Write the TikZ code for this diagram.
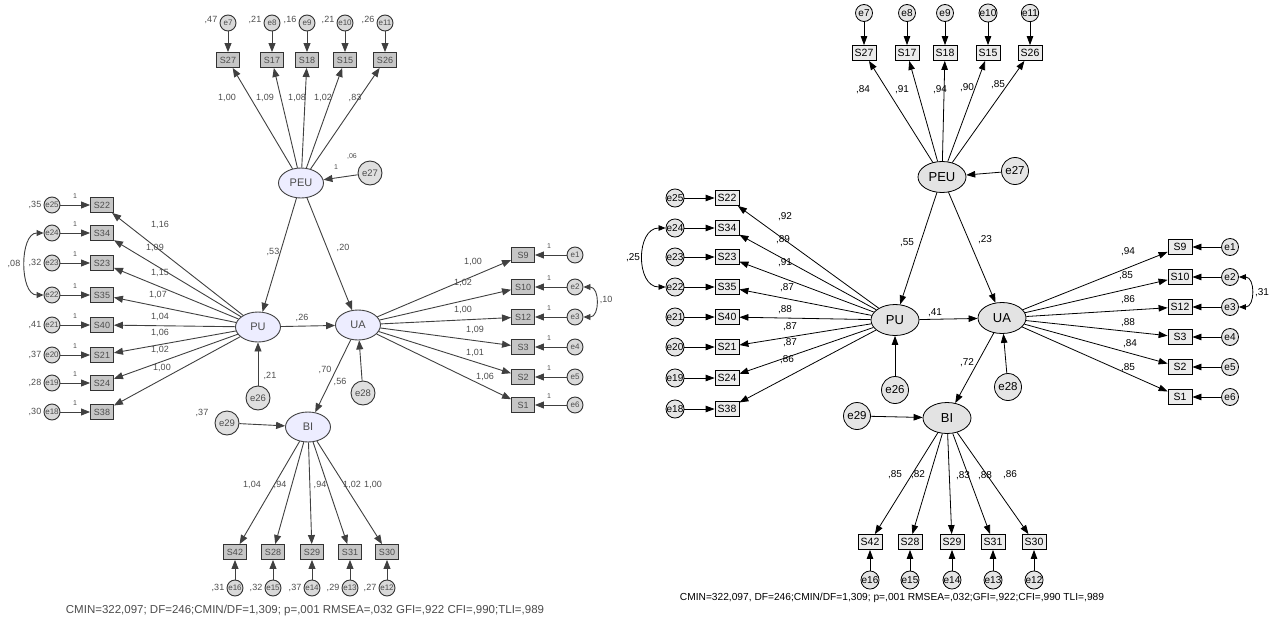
\documentclass[tikz,border=0pt]{standalone}
\usepackage{fontspec}
\setmainfont{Liberation Sans}
\usetikzlibrary{arrows.meta,shapes.geometric}

\begin{document}
\begin{tikzpicture}[x=1pt,y=-1pt,
    every node/.style={inner sep=0pt},
    % right model (standardized)
    lat/.style={ellipse, draw=black, fill=gray!22, line width=0.8pt, minimum width=48pt, minimum height=31pt, font=\fontsize{13}{14}\selectfont},
    obs/.style={draw=black, fill=gray!15, line width=0.8pt, minimum width=24pt, minimum height=15pt, font=\fontsize{10.5}{11}\selectfont},
    err/.style={circle, draw=black, fill=gray!20, line width=0.8pt, minimum size=17pt, font=\fontsize{10}{11}\selectfont},
    res/.style={circle, draw=black, fill=gray!20, line width=0.8pt, minimum size=27pt, font=\fontsize{11.5}{12}\selectfont},
    lbl/.style={font=\fontsize{10}{11}\selectfont},
    path/.style={-{Triangle[length=9pt,width=6.5pt]}, line width=0.8pt},
    cov/.style={{Triangle[length=7pt,width=5.5pt]}-{Triangle[length=7pt,width=5.5pt]}, line width=0.8pt},
    % left model (unstandardized)
    alat/.style={ellipse, draw=black!75, fill=blue!7, line width=0.9pt, minimum width=45pt, minimum height=30pt, font=\fontsize{11}{12}\selectfont, text=black!70},
    aobs/.style={draw=black!80, fill=gray!45, line width=0.9pt, minimum width=23pt, minimum height=15pt, font=\fontsize{9}{10}\selectfont, text=black!70},
    aerr/.style={circle, draw=black!80, fill=gray!30, line width=0.9pt, minimum size=16pt, font=\fontsize{8}{9}\selectfont, text=black!70},
    ares/.style={circle, draw=black!80, fill=gray!25, line width=0.9pt, minimum size=24pt, font=\fontsize{9.5}{10}\selectfont, text=black!70},
    albl/.style={font=\fontsize{9}{10}\selectfont, text=black!70},
    aone/.style={font=\fontsize{7}{8}\selectfont, text=black!70},
    apath/.style={-{Triangle[length=9pt,width=7pt]}, line width=0.9pt, draw=black!75},
    acov/.style={{Triangle[length=7pt,width=6pt]}-{Triangle[length=7pt,width=6pt]}, line width=0.9pt, draw=black!75},
    foot/.style={font=\fontsize{10.2}{11}\selectfont}]

\useasboundingbox (0,0) rectangle (1271,621);

% ---------- left model ----------
\node[alat] (aPEU) at (301,183) {PEU};
\node[alat] (aPU) at (258,327) {PU};
\node[alat] (aUA) at (358,325) {UA};
\node[alat] (aBI) at (308,427) {BI};
\node[ares] (ae27) at (370,173) {e27};
\node[ares] (ae26) at (258,398) {e26};
\node[ares] (ae28) at (363,393) {e28};
\node[ares] (ae29) at (227,423) {e29};

% structural paths
\draw[apath] (ae27) -- (aPEU);
\draw[apath] (ae26) -- (aPU);
\draw[apath] (ae28) -- (aUA);
\draw[apath] (ae29) -- (aBI);
\draw[apath] (aPEU) -- (aPU);
\draw[apath] (aPEU) -- (aUA);
\draw[apath] (aPU) -- (aUA);
\draw[apath] (aUA) -- (aBI);
\node[albl] (aw1) at (273,252) {,53};
\node[albl] (aw2) at (343,248) {,20};
\node[albl] (aw3) at (302,318) {,26};
\node[albl] (aw4) at (325,370) {,70};
\node[albl] (av28) at (340,382) {,56};
\node[albl] (av26) at (270,376) {,21};
\node[albl] (av29) at (202,413) {,37};
\node[aone] (av27) at (352,157) {,06};
\node[aone] (ao27) at (336,167) {1};

% PEU items
\foreach \s/\e/\x/\w/\lx/\v in {27/7/228/{1,00}/227/{,47}, 17/8/272/{1,09}/265/{,21}, 18/9/307/{1,08}/297/{,16}, 15/10/345/{1,02}/323/{,21}, 26/11/385/{,83}/355/{,26}}{
  \node[aobs] (aS\s) at (\x,60) {S\s};
  \node[aerr] (ae\e) at (\x,23) {e\e};
  \node[albl] (al\s) at (\lx,98) {\w};
  \node[albl] (av\e) at (\x-17,20) {\v};
  \draw[apath] (ae\e) -- (aS\s);
  \draw[apath] (aPEU) -- (aS\s);
}

% PU items
\foreach \s/\e/\y/\w/\lx/\ly/\v in {22/25/205/{1,16}/160/225/{,35}, 34/24/233/{1,09}/155/248/{}, 23/23/263/{1,15}/160/273/{,32}, 35/22/295/{1,07}/158/295/{}, 40/21/325/{1,04}/160/317/{,41}, 21/20/355/{1,06}/160/333/{,37}, 24/19/383/{1,02}/160/350/{,28}, 38/18/412/{1,00}/162/368/{,30}}{
  \node[aobs] (aS\s) at (102,\y) {S\s};
  \node[aerr] (ae\e) at (52,\y) {e\e};
  \node[albl] (al\s) at (\lx,\ly) {\w};
  \node[albl] (av\e) at (35,\y) {\v};
  \node[aone] (ao\s) at (75,\y-9) {1};
  \draw[apath] (ae\e) -- (aS\s);
  \draw[apath] (aPU) -- (aS\s);
}
\draw[acov] (ae24.west) to[out=180,in=180,looseness=1.0] (ae22.west);
\node[albl] (ac1) at (14,264) {,08};

% UA items
\foreach \s/\e/\y/\w/\lx/\ly in {9/1/255/{1,00}/473/262, 10/2/287/{1,02}/463/283, 12/3/317/{1,00}/463/310, 3/4/347/{1,09}/475/330, 2/5/377/{1,01}/475/353, 1/6/405/{1,06}/485/377}{
  \node[aobs] (aS\s) at (523,\y) {S\s};
  \node[aerr] (ae\e) at (575,\y) {e\e};
  \node[albl] (al\s) at (\lx,\ly) {\w};
  \node[aone] (ao\s) at (549,\y-9) {1};
  \draw[apath] (ae\e) -- (aS\s);
  \draw[apath] (aUA) -- (aS\s);
}
\draw[acov] (ae2.east) to[out=0,in=0,looseness=1.4] (ae3.east);
\node[albl] (ac2) at (606,300) {,10};

% BI items
\foreach \s/\e/\x/\w/\lx/\v in {42/16/235/{1,04}/252/{,31}, 28/15/273/{,94}/280/{,32}, 29/14/312/{,94}/320/{,37}, 31/13/350/{1,02}/352/{,29}, 30/12/387/{1,00}/373/{,27}}{
  \node[aobs] (aS\s) at (\x,552) {S\s};
  \node[aerr] (ae\e) at (\x,588) {e\e};
  \node[albl] (al\s) at (\lx,485) {\w};
  \node[albl] (av\e) at (\x-17,588) {\v};
  \draw[apath] (ae\e) -- (aS\s);
  \draw[apath] (aBI) -- (aS\s);
}
\node[foot, text=black!70, font=\fontsize{11.5}{12}\selectfont] (afit) at (305,611) {CMIN=322,097; DF=246;CMIN/DF=1,309; p=,001 RMSEA=,032 GFI=,922 CFI=,990;TLI=,989};

% ---------- right model ----------
\node[lat] (bPEU) at (942,177) {PEU};
\node[lat] (bPU) at (895,320) {PU};
\node[lat] (bUA) at (1002,318) {UA};
\node[lat] (bBI) at (947,418) {BI};
\node[res] (be27) at (1015,171) {e27};
\node[res] (be26) at (895,390) {e26};
\node[res] (be28) at (1008,387) {e28};
\node[res] (be29) at (857,416) {e29};

% structural paths
\draw[path] (be27) -- (bPEU);
\draw[path] (be26) -- (bPU);
\draw[path] (be28) -- (bUA);
\draw[path] (be29) -- (bBI);
\draw[path] (bPEU) -- (bPU);
\draw[path] (bPEU) -- (bUA);
\draw[path] (bPU) -- (bUA);
\draw[path] (bUA) -- (bBI);
\node[lbl] (bw1) at (907,243) {,55};
\node[lbl] (bw2) at (985,240) {,23};
\node[lbl] (bw3) at (935,313) {,41};
\node[lbl] (bw4) at (967,363) {,72};

% PEU items
\foreach \s/\e/\x/\w/\lx/\ly in {27/7/864/{,84}/863/90, 17/8/907/{,91}/902/90, 18/9/945/{,94}/940/90, 15/10/988/{,90}/967/88, 26/11/1030/{,85}/998/85}{
  \node[obs] (bS\s) at (\x,53) {S\s};
  \node[err] (be\e) at (\x,13) {e\e};
  \node[lbl] (bl\s) at (\lx,\ly) {\w};
  \draw[path] (be\e) -- (bS\s);
  \draw[path] (bPEU) -- (bS\s);
}

% PU items
\foreach \s/\e/\y/\w/\lx/\ly in {22/25/198/{,92}/785/217, 34/24/228/{,89}/783/240, 23/23/257/{,91}/785/263, 35/22/287/{,87}/787/288, 40/21/317/{,88}/785/310, 21/20/347/{,87}/790/327, 24/19/378/{,87}/790/343, 38/18/409/{,86}/787/360}{
  \node[obs] (bS\s) at (727,\y) {S\s};
  \node[err] (be\e) at (675,\y) {e\e};
  \node[lbl] (bl\s) at (\lx,\ly) {\w};
  \draw[path] (be\e) -- (bS\s);
  \draw[path] (bPU) -- (bS\s);
}
\draw[cov] (be24.west) to[out=180,in=180,looseness=1.3] (be22.west);
\node[lbl] (bc1) at (633,258) {,25};

% UA items
\foreach \s/\e/\y/\w/\lx/\ly in {9/1/247/{,94}/1128/252, 10/2/277/{,85}/1126/276, 12/3/307/{,86}/1128/300, 3/4/337/{,88}/1128/323, 2/5/367/{,84}/1130/344, 1/6/397/{,85}/1128/368}{
  \node[obs] (bS\s) at (1180,\y) {S\s};
  \node[err] (be\e) at (1230,\y) {e\e};
  \node[lbl] (bl\s) at (\lx,\ly) {\w};
  \draw[path] (be\e) -- (bS\s);
  \draw[path] (bUA) -- (bS\s);
}
\draw[cov] (be2.east) to[out=0,in=0,looseness=1.4] (be3.east);
\node[lbl] (bc2) at (1262,293) {,31};

% BI items
\foreach \s/\e/\x/\w/\lx/\ly in {42/16/870/{,85}/895/475, 28/15/910/{,82}/918/475, 29/14/952/{,83}/963/476, 31/13/993/{,88}/985/476, 30/12/1034/{,86}/1010/475}{
  \node[obs] (bS\s) at (\x,542) {S\s};
  \node[err] (be\e) at (\x,580) {e\e};
  \node[lbl] (bl\s) at (\lx,\ly) {\w};
  \draw[path] (be\e) -- (bS\s);
  \draw[path] (bBI) -- (bS\s);
}
\node[foot] (bfit) at (892,598) {CMIN=322,097, DF=246;CMIN/DF=1,309; p=,001 RMSEA=,032;GFI=,922;CFI=,990 TLI=,989};

\end{tikzpicture}
\end{document}
